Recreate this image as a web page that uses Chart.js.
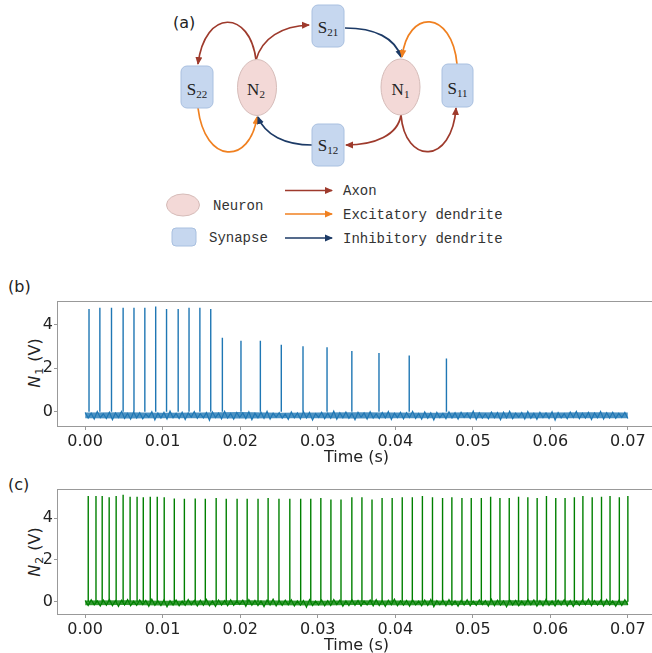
<!DOCTYPE html>
<html>
<head>
<meta charset="utf-8">
<script src="https://cdn.jsdelivr.net/npm/chart.js@4.4.0/dist/chart.umd.min.js"></script>
<style>
html, body { margin: 0; padding: 0; background: #fff; width: 652px; height: 653px; overflow: hidden; position: relative; font-family: "DejaVu Sans", sans-serif; }
#diagram { position: absolute; left: 0; top: 0; }
.panel { position: absolute; left: 0; width: 670px; height: 200px; }
.plabel { position: absolute; font-size: 16px; color: #222; line-height: 1; }
.ytitle { position: absolute; font-size: 16px; color: #222; white-space: nowrap; line-height: 1; transform: translate(-50%, -50%) rotate(-90deg); }
.ytitle sub { font-size: 11px; position: relative; top: 3px; vertical-align: baseline; margin-left: 1px; }
.ytitle .unit { margin-left: 6px; }
</style>
</head>
<body>

<svg id="diagram" width="652" height="260" viewBox="0 0 652 260">
  <defs>
    <marker id="mAxon" markerWidth="8" markerHeight="8" refX="7" refY="4" orient="auto" markerUnits="userSpaceOnUse"><path d="M0,0.5 L8,4 L0,7.5 z" fill="#9e3a2c"/></marker>
    <marker id="mExc" markerWidth="8" markerHeight="8" refX="7" refY="4" orient="auto" markerUnits="userSpaceOnUse"><path d="M0,0.5 L8,4 L0,7.5 z" fill="#f08020"/></marker>
    <marker id="mInh" markerWidth="8" markerHeight="8" refX="7" refY="4" orient="auto" markerUnits="userSpaceOnUse"><path d="M0,0.5 L8,4 L0,7.5 z" fill="#1c3a66"/></marker>
  </defs>
  <text x="173" y="28" font-family="DejaVu Sans" font-size="16" fill="#222">(a)</text>

  <g fill="none" stroke-width="1.7">
    <path d="M256,60 C262,38 282,26 309,25" stroke="#9e3a2c" marker-end="url(#mAxon)"/>
    <path d="M256,60 C250,10 205,8 198,64" stroke="#9e3a2c" marker-end="url(#mAxon)"/>
    <path d="M198,108 C205,165 250,165 257,117" stroke="#f08020" marker-end="url(#mExc)"/>
    <path d="M312,145 C285,145 265,135 258,117" stroke="#1c3a66" marker-end="url(#mInh)"/>
    <path d="M345,28 C375,28 395,38 401,57" stroke="#1c3a66" marker-end="url(#mInh)"/>
    <path d="M457,64 C452,10 408,8 402,57" stroke="#f08020" marker-end="url(#mExc)"/>
    <path d="M401,115 C398,135 375,145 346,145" stroke="#9e3a2c" marker-end="url(#mAxon)"/>
    <path d="M401,115 C405,165 452,165 456,108" stroke="#9e3a2c" marker-end="url(#mAxon)"/>
  </g>

  <g fill="#c6d7ef" stroke="#a9c0e0" stroke-width="1">
    <rect x="312" y="5" width="32" height="42" rx="6"/>
    <rect x="181" y="66" width="32" height="42" rx="6"/>
    <rect x="442" y="64" width="31" height="43" rx="6"/>
    <rect x="312" y="124" width="32" height="42" rx="6"/>
  </g>
  <g fill="#f3d9d7" stroke="#d6bcb9" stroke-width="1">
    <ellipse cx="257" cy="87.5" rx="19.5" ry="28"/>
    <ellipse cx="400.5" cy="87" rx="19.5" ry="28"/>
  </g>
  <g font-family="Liberation Serif" font-size="17" fill="#222" text-anchor="middle">
    <text x="328" y="33">S<tspan font-size="11" dy="3">21</tspan></text>
    <text x="197" y="95">S<tspan font-size="11" dy="3">22</tspan></text>
    <text x="457.5" y="94">S<tspan font-size="11" dy="3">11</tspan></text>
    <text x="328" y="151">S<tspan font-size="11" dy="3">12</tspan></text>
    <text x="256" y="95">N<tspan font-size="11" dy="3">2</tspan></text>
    <text x="400.5" y="95">N<tspan font-size="11" dy="3">1</tspan></text>
  </g>

  <ellipse cx="183" cy="205" rx="16.5" ry="11" fill="#f3d9d7" stroke="#d6bcb9" stroke-width="1"/>
  <rect x="172" y="228" width="24" height="18" rx="4" fill="#c6d7ef" stroke="#a9c0e0" stroke-width="1"/>
  <g stroke-width="1.5">
    <line x1="285" y1="190.5" x2="332" y2="190.5" stroke="#9e3a2c" marker-end="url(#mAxon)"/>
    <line x1="285" y1="214" x2="332" y2="214" stroke="#f08020" marker-end="url(#mExc)"/>
    <line x1="285" y1="238" x2="332" y2="238" stroke="#1c3a66" marker-end="url(#mInh)"/>
  </g>
  <g font-family="Liberation Mono" font-size="14" fill="#333">
    <text x="213" y="210">Neuron</text>
    <text x="209" y="242">Synapse</text>
    <text x="343" y="195">Axon</text>
    <text x="343" y="218.5">Excitatory dendrite</text>
    <text x="343" y="242.5">Inhibitory dendrite</text>
  </g>
</svg>

<div class="plabel" style="left:8px;top:279px;">(b)</div>
<div class="plabel" style="left:8px;top:477px;">(c)</div>
<div class="ytitle" style="left:35px;top:363px;"><i>N</i><sub>1</sub><span class="unit">(V)</span></div>
<div class="ytitle" style="left:35px;top:552px;"><i>N</i><sub>2</sub><span class="unit">(V)</span></div>

<div class="panel" style="top:270px;"><canvas id="chartN1" width="670" height="200"></canvas></div>
<div class="panel" style="top:458px;"><canvas id="chartN2" width="670" height="200"></canvas></div>

<script>
// Axis ticks
const xTicks = [0, 0.01, 0.02, 0.03, 0.04, 0.05, 0.06, 0.07];
const yTicks = [0, 2, 4];
const T_END = 0.07;

// N1: spike times (s) and peak voltages (V)
const spikeTimesN1 = [0.0005, 0.0019, 0.0034, 0.0049, 0.0063, 0.0077, 0.0091, 0.0105, 0.0120, 0.0134, 0.0148,
    0.0162, 0.0177, 0.0201, 0.0226, 0.0253, 0.0281, 0.0312, 0.0344, 0.0379, 0.0418, 0.0466];
const spikePeaksN1 = [4.70, 4.76, 4.76, 4.76, 4.76, 4.76, 4.82, 4.70, 4.70, 4.76, 4.76,
    4.70, 3.39, 3.25, 3.25, 3.07, 3.00, 2.95, 2.78, 2.69, 2.58, 2.44];

// N2: spike times (s) and peak voltages (V)
const spikeTimesN2 = [0.0004, 0.0014, 0.0022, 0.0031, 0.0040, 0.0049, 0.0058, 0.0067, 0.0075, 0.0084, 0.0093, 0.0102,
    0.0115, 0.0128, 0.0142, 0.0155, 0.0169, 0.0182, 0.0196, 0.0209, 0.0223, 0.0236, 0.0250, 0.0264, 0.0278, 0.0291,
    0.0304, 0.0317, 0.0330, 0.0344, 0.0357, 0.0370, 0.0383, 0.0396, 0.0409, 0.0422, 0.0435, 0.0448, 0.0461, 0.0473,
    0.0486, 0.0498, 0.0511, 0.0523, 0.0535, 0.0547, 0.0559, 0.0571, 0.0583, 0.0595, 0.0607, 0.0619, 0.0631, 0.0642,
    0.0654, 0.0666, 0.0677, 0.0689, 0.0700];
const spikePeaksN2 = [5.06, 5.06, 5.06, 5.00, 5.06, 5.12, 5.03, 5.03, 5.00, 5.03, 5.03, 5.00,
    4.95, 4.93, 4.95, 4.93, 4.97, 4.93, 4.93, 4.93, 4.93, 4.97, 4.93, 4.93, 4.93, 4.93,
    4.97, 4.90, 4.90, 5.00, 5.00, 4.90, 4.97, 4.97, 5.00, 5.00, 5.06, 5.00, 4.97, 5.00,
    4.97, 4.97, 4.97, 5.03, 4.97, 4.97, 5.03, 5.00, 4.97, 5.06, 4.97, 4.97, 5.00, 5.06,
    5.00, 5.03, 5.06, 5.00, 5.06];

// Dense part of the baseline noise band (upper / lower edge, V), evenly spaced over 0 .. 0.07 s
const bandTopN1 = [-0.03, -0.02, -0.04, -0.03, -0.01, -0.04, -0.03, -0.02, -0.03, -0.04, -0.02, -0.03, -0.03, -0.02, -0.03];
const bandBottomN1 = [-0.30, -0.31, -0.29, -0.30, -0.31, -0.30, -0.29, -0.31, -0.30, -0.30, -0.29, -0.31, -0.30, -0.29, -0.30];
const bandTopN2 = [0.06, 0.07, 0.05, 0.06, 0.07, 0.06, 0.05, 0.07, 0.06, 0.06, 0.05, 0.07, 0.06, 0.06, 0.05];
const bandBottomN2 = [-0.17, -0.16, -0.18, -0.17, -0.16, -0.17, -0.18, -0.16, -0.17, -0.17, -0.16, -0.18, -0.17, -0.16, -0.17];

// Baseline noise samples (V), evenly spaced over 0 .. 0.07 s
const noiseN1 = [
    -0.03,-0.29,-0.06,-0.33,0.01,-0.27,-0.09,-0.31,-0.02,-0.36,
    -0.05,-0.26,0.02,-0.30,-0.08,-0.34,-0.01,-0.28,-0.04,-0.32,
    -0.10,-0.25,0.00,-0.37,-0.06,-0.29,-0.03,-0.33,0.03,-0.27,
    -0.07,-0.31,-0.02,-0.35,-0.05,-0.24,0.01,-0.30,-0.09,-0.28,
    -0.04,-0.39,-0.01,-0.27,-0.06,-0.32,0.02,-0.29,-0.08,-0.34,
    -0.03,-0.26,-0.05,-0.31,0.00,-0.36,-0.07,-0.28,-0.02,-0.30,
    0.02,-0.33,-0.06,-0.25,-0.04,-0.29,-0.10,-0.35,-0.01,-0.27,
    -0.05,-0.32,0.01,-0.28,-0.03,-0.38,-0.08,-0.26,-0.02,-0.31,
    -0.06,-0.29,0.03,-0.34,-0.04,-0.27,-0.01,-0.30,-0.07,-0.36,
    -0.02,-0.25,-0.05,-0.33,0.00,-0.29,-0.09,-0.31,-0.03,-0.28,
    0.01,-0.35,-0.06,-0.27,-0.02,-0.32,-0.04,-0.26,0.02,-0.30,
    -0.08,-0.34,-0.01,-0.29,-0.05,-0.37,-0.03,-0.27,-0.07,-0.31,
    0.00,-0.28,-0.04,-0.33,-0.02,-0.26,-0.06,-0.30,0.03,-0.35,
    -0.05,-0.29,-0.09,-0.32,-0.01,-0.27,-0.04,-0.36,-0.02,-0.28,
    0.02,-0.31,-0.06,-0.25,-0.03,-0.33,0.01,-0.29,-0.07,-0.34,
    -0.02,-0.27,-0.05,-0.30,0.00,-0.38,-0.04,-0.28,-0.08,-0.32,
    -0.01,-0.26,0.02,-0.31,-0.06,-0.29,-0.03,-0.35,-0.05,-0.27,
    0.01,-0.33,-0.04,-0.28,-0.02,-0.30,-0.07,-0.26,-0.03,-0.31
];
const noiseN2 = [
    0.06,-0.18,0.09,-0.15,0.04,-0.21,0.08,-0.17,0.11,-0.19,
    0.05,-0.23,0.07,-0.16,0.10,-0.20,0.03,-0.18,0.08,-0.14,
    0.06,-0.22,0.12,-0.17,0.04,-0.19,0.09,-0.25,0.05,-0.16,
    0.08,-0.20,0.03,-0.18,0.10,-0.15,0.06,-0.21,0.07,-0.17,
    0.11,-0.19,0.04,-0.23,0.08,-0.16,0.05,-0.20,0.09,-0.18,
    0.03,-0.14,0.07,-0.22,0.10,-0.17,0.06,-0.19,0.04,-0.24,
    0.08,-0.16,0.12,-0.20,0.05,-0.18,0.07,-0.15,0.09,-0.21,
    0.04,-0.17,0.06,-0.26,0.10,-0.19,0.03,-0.16,0.08,-0.20,
    0.05,-0.18,0.11,-0.14,0.07,-0.22,0.04,-0.19,0.09,-0.17,
    0.06,-0.21,0.03,-0.16,0.08,-0.20,0.10,-0.18,0.05,-0.23,
    0.07,-0.15,0.12,-0.19,0.04,-0.17,0.06,-0.21,0.09,-0.16,
    0.03,-0.20,0.08,-0.18,0.11,-0.24,0.05,-0.15,0.07,-0.19,
    0.10,-0.17,0.04,-0.22,0.06,-0.16,0.09,-0.20,0.03,-0.18,
    0.08,-0.14,0.05,-0.21,0.12,-0.19,0.07,-0.17,0.04,-0.25,
    0.09,-0.16,0.06,-0.20,0.03,-0.18,0.10,-0.15,0.08,-0.22,
    0.05,-0.19,0.11,-0.17,0.04,-0.21,0.07,-0.16,0.09,-0.20,
    0.06,-0.23,0.03,-0.18,0.08,-0.15,0.12,-0.19,0.05,-0.17,
    0.07,-0.20,0.10,-0.16,0.04,-0.22,0.06,-0.18,0.09,-0.15
];

const AXIS_COLOR = '#999';
const TEXT_COLOR = '#222';

// Box around the plot area (matplotlib style spines)
const framePlugin = {
    id: 'frame',
    afterDraw(chart) {
        const { ctx, chartArea: a } = chart;
        ctx.save();
        ctx.strokeStyle = AXIS_COLOR;
        ctx.lineWidth = 1;
        ctx.strokeRect(Math.round(a.left) - 0.5, Math.round(a.top) + 0.5,
            Math.round(a.right - a.left), Math.round(a.bottom - a.top));
        ctx.restore();
    }
};

function evenly(values) {
    return values.map((v, i) => ({ x: i * T_END / (values.length - 1), y: v }));
}

function makePanel(canvasId, bandTop, bandBottom, noise, spikeTimes, spikePeaks, color, bandColor, yMin, yMax) {
    const spikePts = [];
    spikeTimes.forEach((t, i) => {
        spikePts.push({ x: t, y: 0 }, { x: t, y: spikePeaks[i] }, { x: t, y: null });
    });

    return new Chart(document.getElementById(canvasId), {
        type: 'scatter',
        data: {
            datasets: [{
                data: evenly(bandTop),
                showLine: true,
                borderWidth: 0,
                backgroundColor: bandColor,
                fill: '+1',
                pointRadius: 0
            }, {
                data: evenly(bandBottom),
                showLine: true,
                borderWidth: 0,
                pointRadius: 0
            }, {
                data: evenly(noise),
                showLine: true,
                borderColor: color,
                borderWidth: 1.2,
                pointRadius: 0
            }, {
                data: spikePts,
                showLine: true,
                spanGaps: false,
                borderColor: color,
                borderWidth: 1.4,
                pointRadius: 0
            }]
        },
        options: {
            responsive: false,
            animation: false,
            layout: { padding: { left: 0, top: 31, right: 15, bottom: 0 } },
            plugins: { legend: { display: false }, tooltip: { enabled: false } },
            scales: {
                x: {
                    type: 'linear',
                    min: -0.0035,
                    max: 0.0735,
                    afterFit: s => { s.height = 44; },
                    afterBuildTicks: s => { s.ticks = xTicks.map(v => ({ value: v })); },
                    border: { display: false },
                    grid: { display: true, drawOnChartArea: false, drawTicks: true, tickLength: 4, color: AXIS_COLOR },
                    ticks: {
                        color: TEXT_COLOR,
                        padding: 2,
                        maxRotation: 0,
                        font: { family: 'DejaVu Sans', size: 16 },
                        callback: v => v.toFixed(2)
                    },
                    title: {
                        display: true,
                        text: 'Time (s)',
                        color: TEXT_COLOR,
                        font: { family: 'DejaVu Sans', size: 16 },
                        padding: { top: 0, bottom: 3 }
                    }
                },
                y: {
                    min: yMin,
                    max: yMax,
                    afterFit: s => { s.width = 58; },
                    afterBuildTicks: s => { s.ticks = yTicks.map(v => ({ value: v })); },
                    border: { display: false },
                    grid: { display: true, drawOnChartArea: false, drawTicks: true, tickLength: 4, color: AXIS_COLOR },
                    ticks: {
                        color: TEXT_COLOR,
                        padding: 1,
                        font: { family: 'DejaVu Sans', size: 16 },
                        callback: v => String(v)
                    }
                }
            }
        },
        plugins: [framePlugin]
    });
}

makePanel('chartN1', bandTopN1, bandBottomN1, noiseN1, spikeTimesN1, spikePeaksN1,
    '#1f77b4', 'rgba(31, 119, 180, 0.8)', -0.65, 5.07);
makePanel('chartN2', bandTopN2, bandBottomN2, noiseN2, spikeTimesN2, spikePeaksN2,
    '#008000', 'rgba(0, 128, 0, 0.8)', -0.59, 5.40);
</script>
</body>
</html>
